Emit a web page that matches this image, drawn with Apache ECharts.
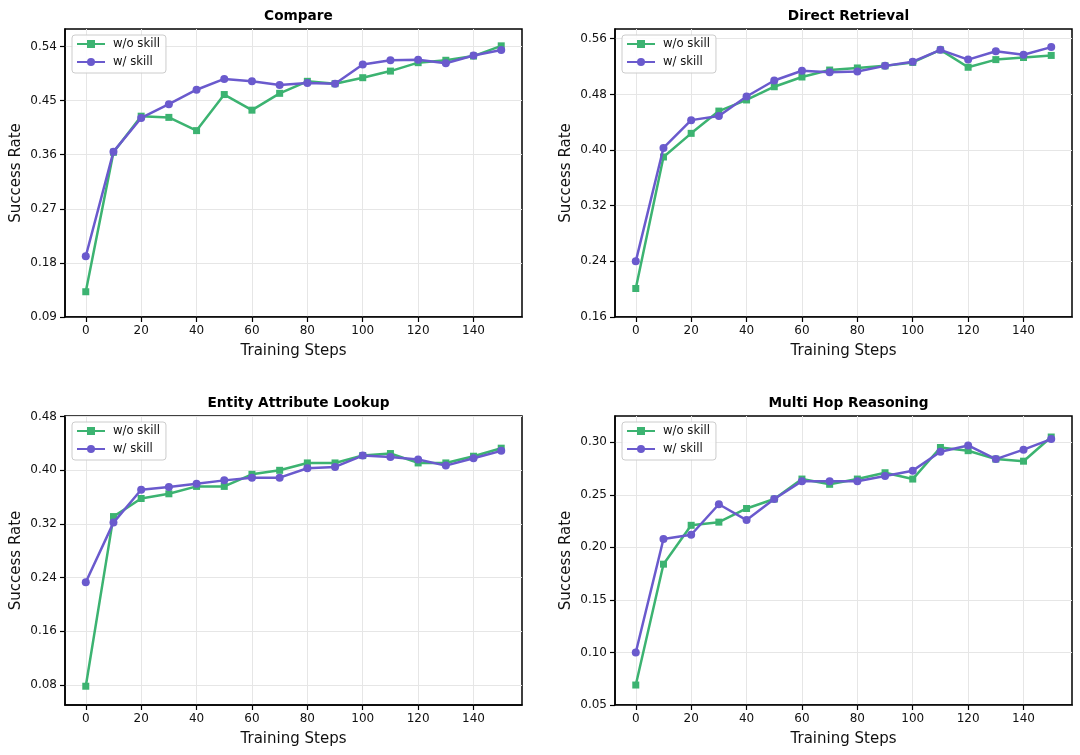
<!DOCTYPE html>
<html>
<head>
<meta charset="utf-8">
<script src="https://cdn.jsdelivr.net/npm/echarts@6/dist/echarts.min.js"></script>
<style>
html,body{margin:0;padding:0;background:#fff;}
#chart{width:1080px;height:755px;}
</style>
</head>
<body>
<div id="chart"></div>
<script>
// ---- data ----
const steps = [0,10,20,30,40,50,60,70,80,90,100,110,120,130,140,150];
const seriesNames = ['w/o skill', 'w/ skill'];
const panelTitles = ['Compare', 'Direct Retrieval', 'Entity Attribute Lookup', 'Multi Hop Reasoning'];

const compareWo = [0.132,0.364,0.424,0.422,0.400,0.460,0.434,0.462,0.482,0.478,0.488,0.499,0.513,0.517,0.524,0.541];
const compareW  = [0.191,0.365,0.421,0.444,0.468,0.486,0.482,0.476,0.479,0.478,0.510,0.517,0.518,0.512,0.525,0.534];
const directWo  = [0.201,0.390,0.424,0.456,0.472,0.491,0.505,0.515,0.518,0.521,0.526,0.544,0.519,0.530,0.533,0.536];
const directW   = [0.240,0.403,0.443,0.449,0.477,0.500,0.514,0.512,0.513,0.521,0.527,0.544,0.530,0.542,0.537,0.548];
const entityWo  = [0.078,0.331,0.358,0.365,0.376,0.376,0.394,0.400,0.411,0.411,0.422,0.425,0.411,0.411,0.421,0.433];
const entityW   = [0.233,0.322,0.371,0.375,0.380,0.385,0.389,0.389,0.403,0.405,0.422,0.420,0.416,0.407,0.418,0.429];
const multiWo   = [0.069,0.184,0.221,0.224,0.237,0.246,0.265,0.260,0.265,0.271,0.265,0.295,0.292,0.284,0.282,0.305];
const multiW    = [0.100,0.208,0.212,0.241,0.226,0.246,0.263,0.263,0.263,0.268,0.273,0.291,0.297,0.284,0.293,0.303];

const xTicks = [0,20,40,60,80,100,120,140];
const compareTicks = [0.09,0.18,0.27,0.36,0.45,0.54];
const directTicks  = [0.16,0.24,0.32,0.40,0.48,0.56];
const entityTicks  = [0.08,0.16,0.24,0.32,0.40,0.48];
const multiTicks   = [0.05,0.10,0.15,0.20,0.25,0.30];

const xRange = [-7.5, 157.5];
const yRanges = [[0.09,0.569],[0.16,0.574],[0.05,0.481],[0.05,0.325]];

// ---- layout / style ----
const FONT = 'DejaVu Sans';
const GREEN = '#3CB371';
const PURPLE = '#6A5ACD';
const grids = [
  {left:65, top:29, width:457, height:288},
  {left:615, top:29, width:457, height:288},
  {left:65, top:416, width:457, height:289},
  {left:615, top:416, width:457, height:289}
];
const panelData = [[compareWo,compareW],[directWo,directW],[entityWo,entityW],[multiWo,multiW]];
const yTickSets = [compareTicks, directTicks, entityTicks, multiTicks];

const option = {
  animation:false,
  backgroundColor:'#fff',
  textStyle:{fontFamily:FONT},
  title:[], legend:[], grid:[], xAxis:[], yAxis:[], series:[]
};

grids.forEach((g,i)=>{
  option.grid.push({left:g.left, top:g.top, width:g.width, height:g.height,
    show:true, borderColor:'#000', borderWidth:1.5, backgroundColor:'#fff', containLabel:false});
  option.title.push({text:panelTitles[i], left:g.left+g.width/2, top:g.top-25, textAlign:'center',
    textStyle:{fontFamily:FONT, fontSize:13.7, fontWeight:'bold', color:'#000'}});
  option.legend.push({
    data:seriesNames, orient:'vertical', left:g.left+7, top:g.top+6,
    itemWidth:28, itemHeight:10, itemGap:6,
    padding:[3,6,5,4], borderColor:'#cccccc', borderWidth:1, borderRadius:3,
    backgroundColor:'rgba(255,255,255,0.85)',
    textStyle:{fontFamily:FONT, fontSize:11.7, color:'#111', padding:[0,0,0,3]}
  });
  option.xAxis.push({
    type:'value', gridIndex:i, min:xRange[0], max:xRange[1],
    name:'Training Steps', nameLocation:'middle', nameGap:27,
    nameTextStyle:{fontFamily:FONT, fontSize:15, color:'#111'},
    axisLine:{show:true, onZero:false, lineStyle:{color:'#000', width:1.5}},
    axisTick:{show:true, inside:false, length:5, lineStyle:{color:'#000', width:1.2}, customValues:xTicks},
    axisLabel:{fontFamily:FONT, fontSize:12, color:'#111', margin:8, customValues:xTicks},
    splitLine:{show:true, lineStyle:{color:'#e6e6e6', width:1}}
  });
  const yt = yTickSets[i];
  option.yAxis.push({
    type:'value', gridIndex:i, min:yRanges[i][0], max:yRanges[i][1],
    name:'Success Rate', nameLocation:'middle', nameGap:41, nameRotate:90,
    nameTextStyle:{fontFamily:FONT, fontSize:15, color:'#111'},
    axisLine:{show:true, onZero:false, lineStyle:{color:'#000', width:1.5}},
    axisTick:{show:true, inside:false, length:5, lineStyle:{color:'#000', width:1.2}, customValues:yt},
    axisLabel:{fontFamily:FONT, fontSize:12, color:'#111', margin:8, customValues:yt,
      formatter:(v)=>Number(v).toFixed(2)},
    splitLine:{show:true, lineStyle:{color:'#e6e6e6', width:1}}
  });
  const [wo, w] = panelData[i];
  option.series.push({
    name:seriesNames[0], type:'line', xAxisIndex:i, yAxisIndex:i,
    data:steps.map((s,k)=>[s, wo[k]]),
    symbol:'rect', symbolSize:7, showSymbol:true,
    lineStyle:{color:GREEN, width:2.5}, itemStyle:{color:GREEN}, z:2
  });
  option.series.push({
    name:seriesNames[1], type:'line', xAxisIndex:i, yAxisIndex:i,
    data:steps.map((s,k)=>[s, w[k]]),
    symbol:'circle', symbolSize:8, showSymbol:true,
    lineStyle:{color:PURPLE, width:2.5}, itemStyle:{color:PURPLE}, z:3
  });
});

const chart = echarts.init(document.getElementById('chart'), null, {renderer:'canvas'});
chart.setOption(option);
</script>
</body>
</html>
